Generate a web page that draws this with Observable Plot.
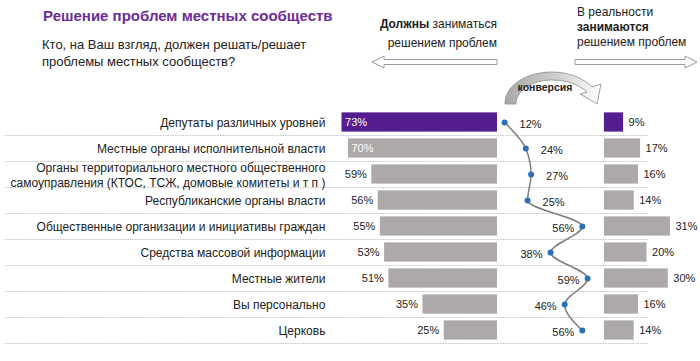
<!DOCTYPE html>
<html>
<head>
<meta charset="utf-8">
<script src="https://cdn.jsdelivr.net/npm/d3@7"></script>
<script src="https://cdn.jsdelivr.net/npm/@observablehq/plot@0.6"></script>
<style>
  html, body { margin: 0; padding: 0; background: #fff; }
  #wrap { position: relative; width: 700px; height: 361px; overflow: hidden; font-family: "Liberation Sans", Arial, sans-serif; }
  #chart { position: absolute; left: 0; top: 0; }
  .t { position: absolute; white-space: nowrap; color: #222; }
  #title { left: 43px; top: 7px; font-size: 15px; font-weight: bold; color: #6a2c98; }
  #sub { left: 42px; top: 36px; font-size: 13px; line-height: 17px; }
  #hl { right: 203px; top: 15px; font-size: 12px; line-height: 19px; text-align: right; }
  #hr { left: 577px; top: 5px; font-size: 12px; line-height: 15px; }
  #deco { position: absolute; left: 0; top: 0; pointer-events: none; }
</style>
</head>
<body>
<div id="wrap">
  <div id="chart"></div>
  <div class="t" id="title">Решение проблем местных сообществ</div>
  <div class="t" id="sub">Кто, на Ваш взгляд, должен решать/решает<br>проблемы местных сообществ?</div>
  <div class="t" id="hl"><b>Должны</b> заниматься<br>решением проблем</div>
  <div class="t" id="hr">В реальности<br><b>занимаются</b><br>решением проблем</div>
  <svg id="deco" width="700" height="120">
    <defs>
      <linearGradient id="g" x1="0" x2="1" y1="0" y2="0">
        <stop offset="0" stop-color="#a9a9a9"/>
        <stop offset="0.55" stop-color="#cfcfcf"/>
        <stop offset="1" stop-color="#ffffff"/>
      </linearGradient>
    </defs>
    <path d="M372 62 L384 56 L384 59.5 L497 59.5 L497 64.5 L384 64.5 L384 68 Z" fill="#fff" stroke="#9a9a9a" stroke-width="1"/>
    <path d="M697 62 L685 56 L685 59.5 L575 59.5 L575 64.5 L685 64.5 L685 68 Z" fill="#fff" stroke="#9a9a9a" stroke-width="1"/>
    <path d="M505 104 C505 84 528 72 552 72 C570 72 584 79 592 87 L601 84 L597 104 L580 94 L587 92 C578 84 566 80 552 80 C534 80 516 89 516 104 Z" fill="url(#g)" stroke="#8a8a8a" stroke-width="0.8"/>
    <text x="545" y="91" text-anchor="middle" font-size="10.5" font-weight="bold" fill="#222" font-family="Liberation Sans, Arial, sans-serif">конверсия</text>
  </svg>
</div>
<script>
const categories = [
  "Депутаты различных уровней",
  "Местные органы исполнительной власти",
  "Органы территориального местного общественного\nсамоуправления (КТОС, ТСЖ, домовые комитеты и т п )",
  "Республиканские органы власти",
  "Общественные организации и инициативы граждан",
  "Средства массовой информации",
  "Местные жители",
  "Вы персонально",
  "Церковь"
];
const shouldValues = [73, 70, 59, 56, 55, 53, 51, 35, 25];
const actualValues = [9, 17, 16, 14, 31, 20, 30, 16, 14];
const conversionValues = [12, 24, 27, 25, 56, 38, 59, 46, 56];

const rows = categories.map((c, i) => ({
  c, i, should: shouldValues[i], actual: actualValues[i], conv: conversionValues[i]
}));

const PURPLE = "#541e90";
const GRAY = "#ada9a8";
const RIGHT0 = 50.2;      // start of right-hand bars (in % units of the shared x scale)
const CONV0 = -6.6;       // origin of the conversion curve
const CONVK = 0.829;      // conversion scale factor
const LABEL_X = -80.8;    // right edge of category labels
const convX = d => CONV0 + CONVK * d.conv;
const H = 0.37;

const chart = Plot.plot({
  width: 700,
  height: 361,
  marginLeft: 5,
  marginRight: 52,
  marginTop: 109,
  marginBottom: 18,
  x: { domain: [-231, 70.9], axis: null },
  y: { domain: [-0.5, 8.5], reverse: true, axis: null },
  style: { fontFamily: "Liberation Sans, Arial, sans-serif", background: "transparent" },
  marks: [
    Plot.ruleY(rows, { y: d => d.i + 0.5, stroke: "#c4c4c4", strokeWidth: 1, strokeDasharray: "1.5,1" }),
    Plot.text(rows, { x: () => LABEL_X, y: d => d.i, text: d => d.c, textAnchor: "end", fontSize: 12, lineHeight: 1.25, fill: "#222" }),
    Plot.rectX(rows, { x1: d => -d.should, x2: () => 0, y1: d => d.i - H, y2: d => d.i + H, fill: d => d.i === 0 ? PURPLE : GRAY }),
    Plot.rectX(rows, { x1: () => RIGHT0, x2: d => RIGHT0 + d.actual, y1: d => d.i - H, y2: d => d.i + H, fill: d => d.i === 0 ? PURPLE : GRAY }),
    // left value labels
    Plot.text(rows.filter(d => d.should >= 65), { x: d => -d.should, y: d => d.i, text: d => d.should + "%", textAnchor: "start", dx: 3, fontSize: 11, fill: "#fff" }),
    Plot.text(rows.filter(d => d.should < 65), { x: d => -d.should, y: d => d.i, text: d => d.should + "%", textAnchor: "end", dx: -5, fontSize: 11, fill: "#222" }),
    // right value labels
    Plot.text(rows, { x: d => RIGHT0 + d.actual, y: d => d.i, text: d => d.actual + "%", textAnchor: "start", dx: 5, fontSize: 11, fill: "#222" }),
    // conversion curve
    Plot.line(rows, { x: convX, y: d => d.i, curve: "monotone-y", stroke: "#7f7f7f", strokeWidth: 1.5 }),
    Plot.dot(rows, { x: convX, y: d => d.i, r: 3, fill: "#2e6fb8", stroke: "none" }),
    Plot.text(rows.filter(d => d.i < 4), { x: convX, y: d => d.i, text: d => d.conv + "%", textAnchor: "start", dx: 15, dy: 2, fontSize: 11, fill: "#222" }),
    Plot.text(rows.filter(d => d.i >= 4), { x: convX, y: d => d.i, text: d => d.conv + "%", textAnchor: "end", dx: -8, dy: 2, fontSize: 11, fill: "#222" })
  ]
});
document.getElementById("chart").appendChild(chart);
</script>
</body>
</html>
